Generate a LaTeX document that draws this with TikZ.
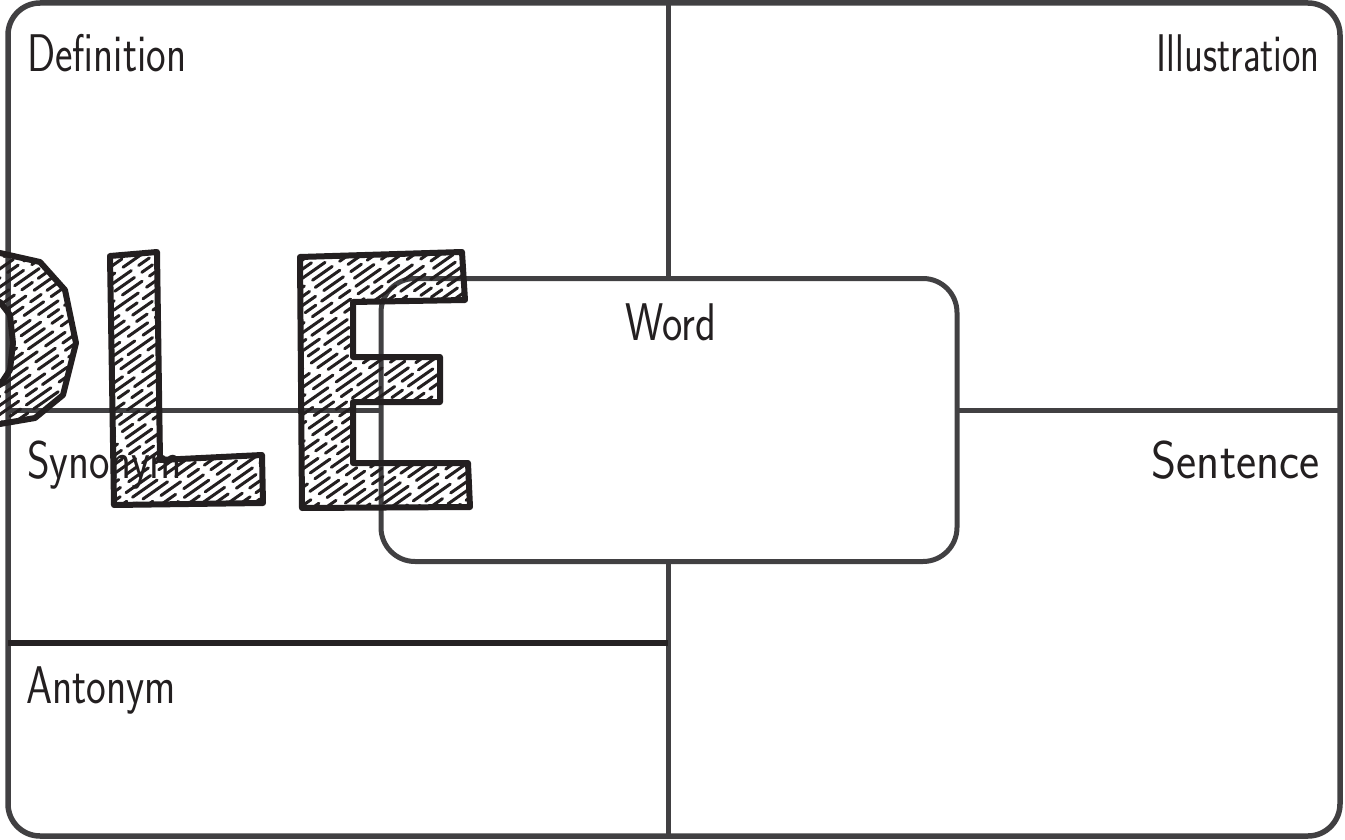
\documentclass[tikz,border=0pt]{standalone}
\usepackage{graphicx}
\definecolor{gridgray}{HTML}{414042}
\definecolor{ink}{HTML}{231F20}
\begin{document}
\begin{tikzpicture}[x=1pt,y=-1pt,
  frame/.style={draw=gridgray, line width=5.5pt},
  gridline/.style={draw=gridgray, line width=5pt},
  darkline/.style={draw=ink!90!gridgray, line width=6pt},
  wordbox/.style={draw=gridgray, fill=white, line width=5pt, rounded corners=34pt,
    minimum width=576pt, minimum height=283pt, inner sep=0pt},
  celltext/.style={text=ink, inner sep=0pt, font=\fontsize{53}{60}\selectfont\sffamily},
  wm/.style={draw=ink, line width=6pt, line join=round},
  hatch/.style={draw=ink, line width=3pt, line cap=round,
    dash pattern=on 24pt off 9pt on 13pt off 7pt on 30pt off 10pt}]
\useasboundingbox (0,0) rectangle (1345,840);
\pgfmathsetseed{11}

% frame and grid
\draw[frame, rounded corners=32pt] (8,3) rectangle (1340,836);
\coordinate (vtop) at (668,3);
\coordinate (vbot) at (668,834);
\coordinate (hl) at (8,410);
\coordinate (hr) at (1340,410);
\coordinate (al) at (8,643);
\coordinate (ar) at (668,643);
\draw[gridline] (vtop) -- (vbot);
\draw[gridline] (hl) -- (hr);
\draw[darkline] (al) -- (ar);

% central box
\node[wordbox] (box) at (669,420) {};

% labels
\node[celltext, anchor=base west] (def) at (27,72) {\resizebox{159pt}{\height}{Definition}};
\node[celltext, anchor=base east] (ill) at (1320,72) {\resizebox{163pt}{\height}{Illustration}};
\node[celltext, anchor=base west] (syn) at (27,478) {\resizebox{155pt}{\height}{Synonym}};
\node[celltext, anchor=base east] (sen) at (1320,478) {\resizebox{168pt}{\height}{Sentence}};
\node[celltext, anchor=base west] (ant) at (26,703) {\resizebox{150pt}{\height}{Antonym}};
\node[celltext, anchor=base west] (word) at (625,340) {\resizebox{91pt}{\height}{Word}};

% watermark letters (P, L, E)
\def\Lpath{(110,256) -- (157,252) -- (160,460) -- (262,455) -- (263,503) -- (114,505) -- cycle}
\def\Epath{(300,257) -- (462,252) -- (465,300) -- (353,302) -- (353,357) -- (440,357) -- (440,402) -- (353,402) -- (353,463) -- (468,463) -- (470,507) -- (302,508) -- cycle}
\begin{scope}
  \clip \Lpath \Epath;
  \foreach \k in {0,...,70} {
    \pgfmathsetmacro{\ph}{rnd*80}
    \draw[hatch, dash phase=\ph pt] (-420+\k*13, 520) -- ++(400,-280);
  }
\end{scope}
\begin{scope}[even odd rule]
  \clip (-20,252) -- (0,253) -- (40,262) -- (65,290) -- (76,343) -- (63,395) -- (35,418) -- (0,424) -- (-20,424) -- cycle
        (-20,300) -- (0,302) -- (10,315) -- (13,343) -- (10,370) -- (0,385) -- (-20,386) -- cycle;
  \foreach \k in {0,...,42} {
    \pgfmathsetmacro{\ph}{rnd*80}
    \draw[hatch, dash phase=\ph pt] (-450+\k*13, 520) -- ++(400,-280);
  }
\end{scope}
\draw[wm] \Lpath;
\draw[wm] \Epath;
\draw[wm] (-20,252) -- (0,253) -- (40,262) -- (65,290) -- (76,343) -- (63,395) -- (35,418) -- (0,424) -- (-20,424);
\draw[wm] (-20,300) -- (0,302) -- (10,315) -- (13,343) -- (10,370) -- (0,385) -- (-20,386);
\end{tikzpicture}
\end{document}
